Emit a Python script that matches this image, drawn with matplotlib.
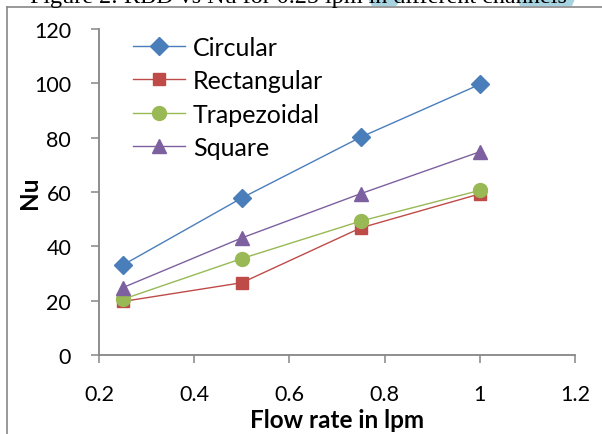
import matplotlib
matplotlib.use('Agg')
import matplotlib.pyplot as plt
from matplotlib.lines import Line2D
from matplotlib.patches import Polygon

plt.rcParams['font.family'] = ['Lato', 'DejaVu Sans']

flow = [0.25, 0.5, 0.75, 1.0]
circular = [33.1, 57.8, 80.2, 99.6]
rectangular = [19.7, 26.6, 46.8, 59.3]
trapezoidal = [20.5, 35.5, 49.3, 60.6]
square = [24.8, 43.1, 59.4, 74.8]

x_ticks = [0.2, 0.4, 0.6, 0.8, 1.0, 1.2]
x_labels = ['0.2', '0.4', '0.6', '0.8', '1', '1.2']
y_ticks = [0, 20, 40, 60, 80, 100, 120]

W, H = 602, 435
fig = plt.figure(figsize=(W / 100, H / 100), dpi=100)
ax = fig.add_axes([99 / W, 1 - 356 / H, 476 / W, 326 / H])

ax.plot(flow, circular, color='#4A7EBB', lw=1.0, marker='D', ms=9, label='Circular')
ax.plot(flow, rectangular, color='#BE4B48', lw=1.0, marker='s', ms=9, label='Rectangular')
ax.plot(flow, trapezoidal, color='#98B954', lw=1.0, marker='o', ms=10, label='Trapezoidal')
ax.plot(flow, square, color='#7D60A0', lw=1.0, marker='^', ms=10, label='Square')

ax.set_xlim(0.2, 1.2)
ax.set_ylim(0, 120)
ax.set_xticks(x_ticks)
ax.set_xticklabels(x_labels)
ax.set_yticks(y_ticks)
ax.tick_params(labelsize=15.5, length=6, width=1.1, color='#868686', direction='out')
ax.tick_params(axis='x', pad=15)
ax.tick_params(axis='y', pad=14)
for s in ['top', 'right']:
    ax.spines[s].set_visible(False)
for s in ['left', 'bottom']:
    ax.spines[s].set_color('#868686')
    ax.spines[s].set_linewidth(1.3)

ax.set_xlabel('Flow rate in lpm', fontsize=17.5, fontweight='bold', labelpad=3)
ax.set_ylabel('Nu', fontsize=17.5, fontweight='bold', labelpad=-5)

ax.legend(loc='upper left', bbox_to_anchor=(0.05, 1.01), frameon=False, fontsize=18,
          handlelength=2.1, handletextpad=0.3, labelspacing=0.42, borderaxespad=0.0)

# outer chart border (partly cropped in the source image)
bx = 7 / W
by = 1 - 8 / H
fig.add_artist(Line2D([bx, bx], [0, by], color='#888888', lw=1.2, transform=fig.transFigure))
fig.add_artist(Line2D([bx, 1], [by, by], color='#888888', lw=1.2, transform=fig.transFigure))

# bits of the document above the chart, cut off at the top
for pts in ([(368, 0), (402, 0), (396, 7), (372, 7)], [(517, 0), (575, 0), (572, 7), (520, 7)]):
    fig.add_artist(Polygon([(px / W, 1 - py / H) for px, py in pts], closed=True,
                           facecolor='#A7D3E0', edgecolor='none', transform=fig.transFigure))
fig.text(30 / W, 1 - 3 / H, 'Figure 2: RBD vs Nu for 0.25 lpm in different channels',
         fontsize=17.4, family='Liberation Serif', va='baseline', ha='left')

fig.savefig('out.png', dpi=100)
